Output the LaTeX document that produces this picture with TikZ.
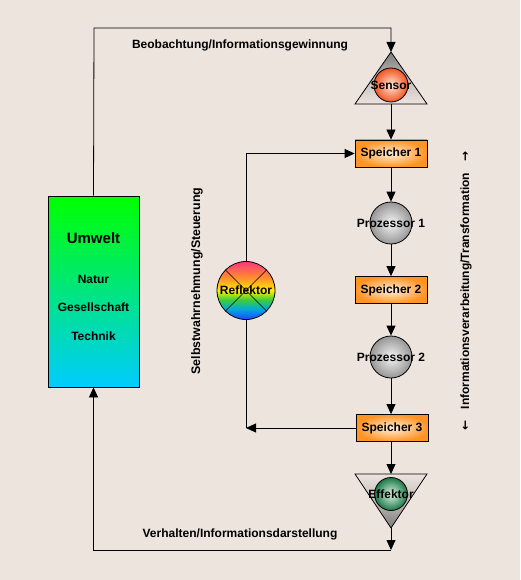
\documentclass[tikz,border=0pt]{standalone}
\usepackage{fontspec}
\setmainfont{Liberation Sans}
\newfontfamily\arrowfont{DejaVu Sans}
\usetikzlibrary{arrows.meta,shadings}
\definecolor{bg}{RGB}{237,228,222}
\definecolor{orgin}{RGB}{255,240,220}
\definecolor{orgout}{RGB}{255,148,35}
\definecolor{senin}{RGB}{255,232,215}
\definecolor{senout}{RGB}{242,85,35}
\definecolor{grin}{RGB}{245,245,245}
\definecolor{grout}{RGB}{150,150,150}
\definecolor{efin}{RGB}{225,245,232}
\definecolor{efout}{RGB}{25,120,70}
\definecolor{trigray}{RGB}{125,125,125}
\definecolor{umtop}{RGB}{0,255,0}
\definecolor{umbot}{RGB}{0,204,255}
\definecolor{rbblue}{RGB}{30,80,255}
\definecolor{rbcyan}{RGB}{0,170,220}
\definecolor{rbgreen}{RGB}{60,205,60}
\definecolor{rbyellow}{RGB}{255,240,0}
\definecolor{rborange}{RGB}{255,150,40}
\definecolor{rbpink}{RGB}{255,60,120}
\pgfdeclareverticalshading{rainbow}{100bp}{color(0bp)=(rbblue);
 color(26bp)=(rbblue);
 color(34bp)=(rbcyan);
 color(42bp)=(rbgreen);
 color(50bp)=(rbyellow);
 color(60bp)=(rborange);
 color(74bp)=(rbpink);
 color(100bp)=(rbpink)}
\begin{document}
\begin{tikzpicture}[x=1pt,y=-1pt,
  font=\bfseries\fontsize{12}{14}\selectfont,
  ln/.style={line width=0.8pt},
  arr/.style={ln,-{Triangle[length=10pt,width=9pt]}},
  speicher/.style={draw,ln,minimum width=72pt,minimum height=27pt,inner sep=0pt,
     inner color=orgin,outer color=orgout},
  proz/.style={circle,draw,ln,minimum size=42pt,inner sep=0pt,
     inner color=grin,outer color=grout},
  lbl/.style={inner sep=0pt}]
\fill[bg] (0,0) rectangle (520,580);
\useasboundingbox (0,0) rectangle (520,580);

% Umwelt
\node[draw,ln,minimum width=91pt,minimum height=191pt,inner sep=0pt,
  top color=umtop,bottom color=umbot] (umwelt) at (93.5,291.5) {};
\node[lbl] (umt) at (93.5,238) {\fontsize{15}{17}\selectfont Umwelt};
\node[lbl] (nat) at (93.5,279) {Natur};
\node[lbl] (ges) at (93.5,307) {Gesellschaft};
\node[lbl] (tec) at (93.5,336) {Technik};

% Sensor triangle
\coordinate (sentop) at (391,52);
\coordinate (senbot) at (391,104);
\shade[top color=trigray,bottom color=bg,middle color=bg!60!trigray] (391,52) -- (427,104) -- (355,104) -- cycle;
\draw[ln] (391,52) -- (427,104) -- (355,104) -- cycle;
\node[circle,draw,ln,minimum size=34pt,inner sep=0pt,inner color=senin,outer color=senout,
  label={[lbl]center:Sensor}] (sensor) at (391,85) {};

% Speicher / Prozessor
\node[speicher] (sp1) at (391,153.5) {Speicher 1};
\node[proz,label={[lbl]center:Prozessor 1}] (pr1) at (391,223) {};
\node[speicher] (sp2) at (391,290) {Speicher 2};
\node[proz,label={[lbl]center:Prozessor 2}] (pr2) at (391,357) {};
\node[speicher] (sp3) at (392,428) {Speicher 3};

% Effektor triangle
\coordinate (efftop) at (391,474);
\coordinate (effbot) at (391,528);
\shade[bottom color=trigray,top color=bg,middle color=bg!60!trigray] (355,474) -- (427,474) -- (391,528) -- cycle;
\draw[ln] (355,474) -- (427,474) -- (391,528) -- cycle;
\node[circle,draw,ln,minimum size=33pt,inner sep=0pt,inner color=efin,outer color=efout,
  label={[lbl]center:Effektor}] (eff) at (391,494) {};

% Reflektor
\node[circle,draw,ln,minimum size=58pt,inner sep=0pt,shade,shading=rainbow] (refl) at (246,290.5) {};
\draw[line width=0.5pt] (refl.north west) -- (refl.south east);
\draw[line width=0.5pt] (refl.north east) -- (refl.south west);
\node[lbl] (reflt) at (246,290.5) {Reflektor};

% corners
\coordinate (c1) at (94,28);
\coordinate (c2) at (391,28);
\coordinate (c3) at (391,550);
\coordinate (c4) at (246,428);

% connectors
\draw[arr] (umwelt.north) -- (c1) -- (c2) -- (sentop);
\draw[arr] (senbot) -- (sp1.north);
\draw[arr] (sp1.south) -- (pr1.north);
\draw[arr] (pr1.south) -- (sp2.north);
\draw[arr] (sp2.south) -- (pr2.north);
\draw[arr] (pr2.south) -- (sp3.north -| pr2.south);
\draw[arr] (sp3.south -| efftop) -- (efftop);
\draw[arr] (effbot) -- (c3);
\draw[arr] (c3) -| (umwelt.south);
\draw[arr] (sp3.west) -- (c4);
\draw[ln] (c4) -- (refl.south);
\draw[arr] (refl.north) |- (sp1.west);

% labels
\node[lbl] (lb1) at (240,45) {Beobachtung/Informationsgewinnung};
\node[lbl] (lb2) at (240,534) {Verhalten/Informationsdarstellung};
\node[lbl,rotate=90] (lb3) at (197,281) {\fontsize{12.4}{14}\selectfont Selbstwahrnehmung/Steuerung};
\node[lbl,rotate=90] (lb4) at (466,291) {{\arrowfont\fontsize{12}{12}\selectfont ←}\hspace{11pt}Informationsverarbeitung/Transformation\hspace{11pt}{\arrowfont\fontsize{12}{12}\selectfont →}};
\end{tikzpicture}
\end{document}
